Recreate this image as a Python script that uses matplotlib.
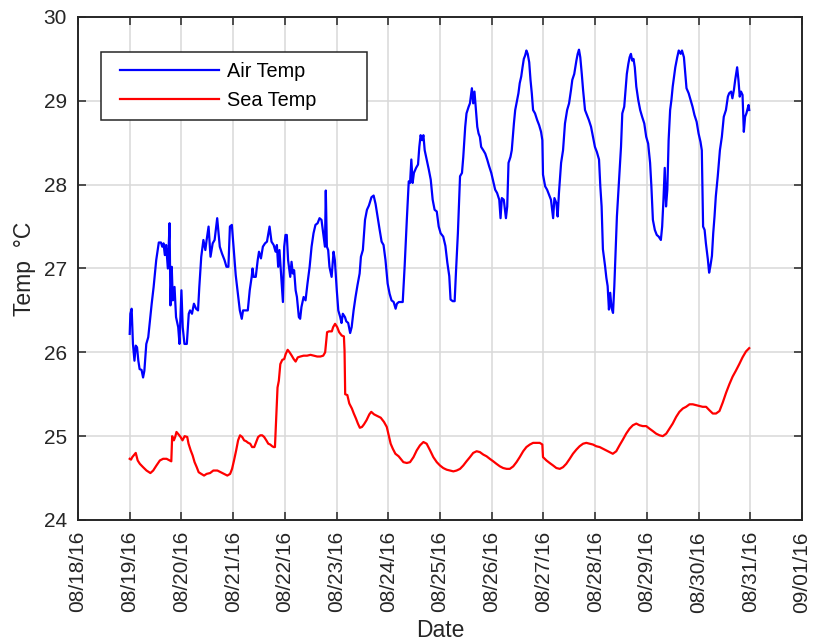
import numpy as np
import pandas as pd
import matplotlib
matplotlib.use("Agg")
import matplotlib.pyplot as plt
import matplotlib.dates as mdates
from matplotlib.legend_handler import HandlerLine2D

# hours after 08/19/16 00:00 and temperatures
air_hours = [0, 0.3, 0.9, 1.5, 2.2, 2.8, 3.4, 4.0, 4.6, 5.5, 6.2, 6.8, 7.7, 8.6,
             10.2, 11.1, 12.3, 13.5, 14.5, 15.1, 15.7, 16.3, 16.9, 17.7, 18.5,
             18.9, 19.5, 20.0, 20.8, 21.5, 22.5, 23.1, 24.0, 24.6, 25.4, 26.5,
             27.4, 28.0, 28.9, 29.8, 30.8, 31.7, 32.3, 33.2, 34.2, 35.1, 35.7,
             36.6, 37.5, 38.5, 39.4, 40.6, 41.8, 42.8, 44.0, 44.9, 45.8, 46.5,
             47.4, 48.3, 49.2, 50.2, 51.1, 52.0, 52.6, 54.8, 55.7, 56.6, 57.0,
             57.5, 58.5, 59.4, 60.0, 60.9, 61.8, 62.8, 63.7, 64.9, 65.8, 66.8,
             67.7, 68.3, 68.9, 69.5, 70.1, 71.1, 71.7, 72.3, 72.9, 73.5, 74.5,
             75.1, 75.7, 76.3, 77.0, 77.6, 78.5, 79.1, 79.7, 80.7, 81.6, 82.5,
             83.5, 84.4, 85.3, 86.2, 87.2, 88.1, 89.0, 90.0, 90.6, 91.0, 91.5,
             92.1, 92.7, 93.7, 94.6, 95.2, 96.1, 96.8, 97.7, 98.3, 98.9, 99.9,
             100.5, 101.4, 102.3, 103.0, 103.9, 104.8, 105.7, 106.7, 107.3,
             108.2, 109.2, 110.1, 111.0, 112.2, 113.2, 114.1, 115.0, 116.0,
             116.9, 117.8, 118.7, 119.7, 120.6, 121.5, 122.5, 123.4, 124.0,
             124.9, 126.7, 127.6, 128.6, 129.5, 130.1, 130.7, 131.3, 131.9,
             132.9, 133.8, 134.4, 135.0, 135.7, 136.3, 136.9, 137.8, 138.8,
             139.7, 140.6, 141.5, 142.5, 143.4, 144.3, 145.5, 146.5, 147.4,
             148.3, 148.9, 149.9, 150.8, 151.4, 152.3, 153.3, 154.2, 154.8,
             155.7, 156.3, 157.3, 157.9, 158.5, 158.8, 159.4, 160.0, 160.7,
             161.3, 161.9, 162.5, 163.1, 164.1, 165.0, 165.9, 166.8, 167.8,
             168.7, 169.6, 170.5, 171.5, 172.1, 172.7, 173.6, 174.6, 175.2,
             175.8, 176.7, 177.3, 178.3, 178.9, 179.5, 180.4, 181.0, 181.7,
             182.3, 182.9, 183.5, 184.1, 184.7, 185.4, 186.0, 186.6, 187.2,
             188.1, 189.1, 190.0, 190.9, 191.5, 191.8, 192.8, 193.7, 194.6,
             195.5, 196.5, 197.1, 198.0, 198.6, 199.2, 200.2, 201.1, 202.0,
             203.0, 203.9, 204.8, 205.4, 206.3, 207.3, 207.9, 208.5, 209.1,
             209.8, 210.4, 211.3, 212.2, 213.1, 214.1, 215.0, 215.9, 216.8,
             217.8, 218.4, 219.0, 219.6, 220.6, 221.2, 221.8, 222.4, 223.0,
             223.6, 224.3, 224.9, 225.5, 226.1, 227.0, 228.0, 228.6, 229.5,
             230.1, 230.7, 231.4, 232.0, 232.6, 233.2, 233.8, 234.4, 235.1,
             236.0, 236.9, 237.8, 238.8, 239.7, 240.6, 241.5, 242.1, 242.8,
             243.7, 244.6, 245.5, 246.5, 247.1, 247.7, 248.3, 248.9, 249.5,
             250.1, 250.8, 251.4, 252.0, 252.6, 253.2, 254.1, 254.8, 255.7,
             256.3, 257.2, 257.8, 258.4, 259.4, 260.3, 261.2, 262.1, 263.1,
             264.0, 264.9, 265.5, 266.1, 266.8, 267.4, 268.3, 268.9, 269.5,
             270.2, 270.8, 271.4, 272.0, 272.9, 273.9, 274.8, 275.7, 276.7,
             277.6, 278.2, 279.1, 279.7, 280.4, 281.0, 281.9, 282.5, 283.1,
             283.7, 284.4, 285.0, 285.6, 286.2, 287.2, 287.5]
air_temp = [26.22, 26.46, 26.52, 26.10, 25.90, 26.08, 26.06, 25.90, 25.80, 25.79,
            25.70, 25.78, 26.10, 26.18, 26.58, 26.78, 27.10, 27.31, 27.31, 27.26,
            27.30, 27.16, 27.28, 27.00, 27.54, 26.56, 27.02, 26.62, 26.78, 26.42,
            26.30, 26.10, 26.74, 26.30, 26.10, 26.10, 26.46, 26.50, 26.46, 26.58,
            26.52, 26.50, 26.78, 27.14, 27.34, 27.22, 27.34, 27.50, 27.14, 27.30,
            27.34, 27.60, 27.26, 27.18, 27.10, 27.02, 27.02, 27.50, 27.52, 27.22,
            26.92, 26.70, 26.50, 26.40, 26.50, 26.50, 26.74, 26.90, 27.00, 26.90,
            26.90, 27.10, 27.20, 27.12, 27.26, 27.30, 27.32, 27.50, 27.32, 27.28,
            27.20, 27.28, 27.02, 27.22, 26.98, 26.60, 27.26, 27.40, 27.40, 27.10,
            26.90, 27.08, 26.94, 26.98, 26.74, 26.66, 26.42, 26.40, 26.54, 26.66,
            26.62, 26.82, 27.02, 27.26, 27.42, 27.52, 27.54, 27.60, 27.58, 27.38,
            27.26, 27.93, 27.26, 27.22, 27.02, 26.90, 27.20, 27.10, 26.74, 26.50,
            26.42, 26.35, 26.46, 26.42, 26.37, 26.35, 26.23, 26.30, 26.50, 26.66,
            26.80, 26.94, 27.14, 27.22, 27.58, 27.70, 27.75, 27.85, 27.87, 27.77,
            27.62, 27.46, 27.32, 27.28, 27.10, 26.82, 26.70, 26.62, 26.60, 26.52,
            26.58, 26.60, 26.60, 27.03, 27.58, 28.04, 28.02, 28.30, 28.02, 28.14,
            28.20, 28.24, 28.45, 28.59, 28.53, 28.59, 28.41, 28.30, 28.18, 28.06,
            27.82, 27.70, 27.68, 27.50, 27.42, 27.38, 27.27, 27.07, 26.91, 26.63,
            26.61, 26.61, 26.95, 27.42, 28.10, 28.14, 28.33, 28.69, 28.85, 28.93,
            28.97, 29.09, 29.15, 28.97, 29.11, 28.89, 28.69, 28.61, 28.57, 28.45,
            28.41, 28.37, 28.30, 28.22, 28.14, 28.04, 27.94, 27.90, 27.82, 27.60,
            27.84, 27.82, 27.60, 27.74, 28.26, 28.33, 28.41, 28.73, 28.89, 28.97,
            29.09, 29.21, 29.29, 29.40, 29.50, 29.54, 29.60, 29.56, 29.46, 29.25,
            29.09, 28.89, 28.85, 28.77, 28.71, 28.63, 28.53, 28.12, 27.98, 27.94,
            27.88, 27.82, 27.60, 27.84, 27.78, 27.62, 27.90, 28.26, 28.41, 28.73,
            28.89, 28.97, 29.13, 29.25, 29.32, 29.48, 29.56, 29.61, 29.52, 29.32,
            29.13, 28.89, 28.83, 28.77, 28.69, 28.57, 28.45, 28.39, 28.30, 27.98,
            27.74, 27.23, 27.03, 26.89, 26.79, 26.51, 26.71, 26.53, 26.47, 26.79,
            27.19, 27.62, 28.02, 28.45, 28.85, 28.93, 29.13, 29.32, 29.44, 29.52,
            29.56, 29.48, 29.50, 29.40, 29.17, 29.01, 28.89, 28.81, 28.73, 28.57,
            28.49, 28.26, 27.98, 27.58, 27.46, 27.40, 27.38, 27.34, 27.50, 27.82,
            28.20, 27.74, 27.94, 28.53, 28.89, 29.01, 29.17, 29.29, 29.40, 29.52,
            29.60, 29.56, 29.60, 29.52, 29.34, 29.15, 29.09, 29.01, 28.93, 28.83,
            28.75, 28.61, 28.51, 28.41, 27.50, 27.46, 27.30, 27.11, 26.95, 27.03,
            27.15, 27.42, 27.62, 27.86, 28.10, 28.41, 28.57, 28.81, 28.89, 29.05,
            29.09, 29.11, 29.03, 29.13, 29.25, 29.40, 29.25, 29.05, 29.11, 29.07,
            28.63, 28.81, 28.85, 28.95, 28.89]

sea_hours = [0, 0.6, 1.2, 2.2, 2.8, 3.7, 4.7, 6.2, 7.8, 9.6, 10.9, 12.4, 14.0,
             15.5, 17.1, 18.6, 19.3, 19.7, 20.5, 21.1, 21.7, 22.7, 23.6, 24.5,
             25.5, 26.7, 27.3, 28.3, 29.2, 30.1, 31.1, 32.0, 33.2, 34.5, 35.7,
             37.3, 38.8, 40.7, 42.2, 43.8, 45.3, 46.6, 47.5, 48.4, 49.4, 50.3,
             51.2, 52.2, 53.1, 54.0, 55.0, 55.9, 56.8, 57.8, 58.7, 59.6, 60.6,
             61.5, 62.4, 63.4, 64.3, 65.2, 66.1, 66.8, 67.4, 68.0, 68.6, 69.2,
             69.9, 70.8, 71.7, 72.4, 73.3, 74.2, 75.2, 76.1, 77.0, 78.0, 79.2,
             80.7, 82.3, 83.9, 85.4, 87.0, 88.5, 89.8, 90.7, 91.6, 92.5, 93.8,
             94.4, 95.3, 96.3, 97.2, 98.4, 99.4, 99.7, 100.0, 101.0, 101.9,
             103.1, 104.0, 105.0, 105.9, 106.8, 107.8, 108.7, 109.9, 111.2,
             112.1, 113.4, 114.9, 116.5, 118.0, 119.3, 120.2, 121.1, 122.1,
             123.3, 124.8, 127.0, 128.6, 130.1, 131.7, 133.2, 134.7, 136.3,
             137.8, 139.4, 140.9, 142.5, 144.0, 145.5, 147.1, 148.6, 150.2,
             151.7, 153.3, 154.8, 156.3, 157.9, 159.4, 161.0, 162.5, 164.1,
             165.6, 167.1, 168.7, 170.2, 171.8, 173.3, 174.9, 176.4, 178.0,
             179.5, 181.0, 182.6, 184.1, 185.7, 187.2, 188.8, 190.3, 191.5,
             191.8, 193.4, 194.9, 196.5, 198.0, 199.6, 201.1, 202.6, 204.2,
             205.7, 207.3, 208.8, 210.4, 211.9, 213.4, 215.0, 216.5, 218.1,
             219.6, 221.2, 222.7, 224.2, 225.8, 227.3, 228.9, 230.4, 232.0,
             233.5, 235.1, 236.6, 238.1, 239.7, 241.2, 242.8, 244.3, 245.9,
             247.4, 249.0, 250.5, 252.0, 253.6, 255.1, 256.7, 258.2, 259.8,
             261.3, 262.8, 264.4, 265.9, 267.5, 269.0, 270.6, 272.1, 273.7,
             275.2, 276.8, 278.3, 279.8, 281.3, 282.9, 284.4, 286.0, 287.5]
sea_temp = [24.73, 24.72, 24.75, 24.78, 24.80, 24.71, 24.67, 24.63, 24.59, 24.56,
            24.59, 24.65, 24.71, 24.73, 24.73, 24.71, 24.70, 25.00, 24.95, 24.99,
            25.05, 25.02, 24.99, 24.95, 25.00, 24.99, 24.91, 24.83, 24.77, 24.69,
            24.63, 24.57, 24.55, 24.53, 24.55, 24.56, 24.59, 24.59, 24.57, 24.55,
            24.53, 24.55, 24.61, 24.71, 24.83, 24.95, 25.01, 24.99, 24.95, 24.94,
            24.92, 24.91, 24.87, 24.87, 24.93, 24.99, 25.01, 25.01, 24.99, 24.95,
            24.91, 24.90, 24.88, 24.87, 24.87, 25.23, 25.58, 25.66, 25.86, 25.91,
            25.92, 25.98, 26.03, 26.00, 25.96, 25.92, 25.89, 25.94, 25.95, 25.96,
            25.96, 25.97, 25.96, 25.95, 25.95, 25.96, 26.00, 26.24, 26.25, 26.25,
            26.30, 26.34, 26.30, 26.24, 26.20, 26.19, 26.02, 25.50, 25.49, 25.39,
            25.33, 25.27, 25.21, 25.15, 25.10, 25.11, 25.14, 25.19, 25.26, 25.29,
            25.26, 25.24, 25.22, 25.17, 25.11, 25.01, 24.91, 24.85, 24.79, 24.76,
            24.69, 24.68, 24.69, 24.75, 24.83, 24.89, 24.93, 24.91, 24.83, 24.75,
            24.69, 24.65, 24.62, 24.60, 24.59, 24.58, 24.59, 24.61, 24.65, 24.70,
            24.75, 24.80, 24.82, 24.81, 24.78, 24.76, 24.73, 24.70, 24.67, 24.64,
            24.62, 24.61, 24.61, 24.64, 24.69, 24.75, 24.82, 24.87, 24.90, 24.92,
            24.92, 24.92, 24.90, 24.75, 24.71, 24.68, 24.65, 24.62, 24.61, 24.63,
            24.67, 24.73, 24.79, 24.84, 24.88, 24.91, 24.92, 24.91, 24.90, 24.88,
            24.87, 24.85, 24.83, 24.81, 24.79, 24.82, 24.89, 24.96, 25.03, 25.09,
            25.13, 25.15, 25.13, 25.12, 25.12, 25.09, 25.06, 25.03, 25.01, 25.00,
            25.03, 25.09, 25.15, 25.23, 25.29, 25.33, 25.35, 25.38, 25.38, 25.37,
            25.36, 25.35, 25.35, 25.31, 25.27, 25.27, 25.30, 25.40, 25.52, 25.62,
            25.71, 25.78, 25.86, 25.94, 26.01, 26.05]

start = pd.Timestamp("2016-08-19")
air_time = start + pd.to_timedelta(air_hours, unit="h")
sea_time = start + pd.to_timedelta(sea_hours, unit="h")


class IndentedLine(HandlerLine2D):
    # legend line that starts a little to the right, like MATLAB's legend
    def get_xdata(self, legend, xdescent, ydescent, width, height, fontsize):
        xdata, xmark = super().get_xdata(legend, xdescent, ydescent,
                                         width, height, fontsize)
        xdata = np.array([-xdescent + 0.085 * width, -xdescent + width])
        return xdata, xmark


dark = "#262626"
plt.rcParams["font.family"] = ["Liberation Sans", "DejaVu Sans"]

fig = plt.figure(figsize=(8.28, 6.43), dpi=100)
ax = fig.add_axes([0.0942, 0.1913, 0.8744, 0.7823])

air_line, = ax.plot(air_time, air_temp, color="#0000ff", lw=1.6, label="Air Temp")
sea_line, = ax.plot(sea_time, sea_temp, color="#ff0000", lw=1.6, label="Sea Temp")

ax.set_xlim(pd.Timestamp("2016-08-18"), pd.Timestamp("2016-09-01"))
ax.set_ylim(24, 30)
ax.set_yticks(range(24, 31))
ax.xaxis.set_major_locator(mdates.DayLocator())
ax.xaxis.set_major_formatter(mdates.DateFormatter("%m/%d/%y"))

ax.grid(True, color="#d9d9d9", lw=1.1)
ax.set_axisbelow(True)
ax.tick_params(direction="in", length=6, width=1.1, top=True, right=True,
               labelsize=15, colors=dark, pad=8)
ax.tick_params(axis="x", labelrotation=90)
for s in ax.spines.values():
    s.set_color(dark)
    s.set_linewidth(1.4)

ax.set_xlabel("Date", fontsize=16.5, color=dark)
ax.set_ylabel("Temp  °C", fontsize=16.5, color=dark)
ax.xaxis.set_label_coords(0.5, -0.197)
ax.yaxis.set_label_coords(-0.058, 0.5)

handler = IndentedLine()
leg = ax.legend(loc="upper left", bbox_to_anchor=(0.032, 0.805, 0.367, 0.125),
                mode="expand", fontsize=14.3, handlelength=5.45, handletextpad=0.4,
                borderaxespad=0, borderpad=0.5, fancybox=False, edgecolor=dark,
                framealpha=1, labelspacing=0.5,
                handler_map={air_line: handler, sea_line: handler})
leg.get_frame().set_linewidth(1.1)

fig.savefig("out.png", dpi=100)
